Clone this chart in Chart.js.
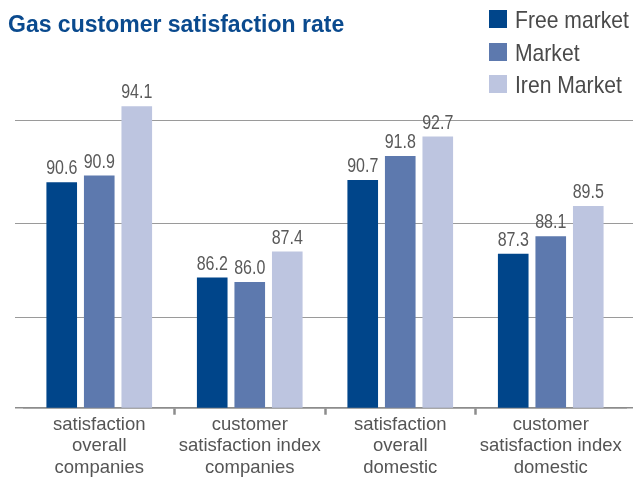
<!DOCTYPE html>
<html>
<head>
<meta charset="utf-8">
<script src="https://cdn.jsdelivr.net/npm/chart.js@4/dist/chart.umd.min.js"></script>
<style>
  html, body { margin: 0; padding: 0; background: #fff; }
  #wrap { position: relative; width: 643px; height: 478px; overflow: hidden; }
  #titolo {
    position: absolute; left: 8px; top: 11px;
    font: bold 23px "Liberation Sans", Arial, sans-serif;
    color: #0a4a8e; white-space: nowrap;
  }
  #legenda { position: absolute; left: 489px; top: 10px; }
  .voce { position: relative; height: 32.5px; }
  .voce span.box { position: absolute; left: 0; top: 0; width: 18px; height: 18px; }
  .voce span.txt {
    position: absolute; left: 26px; top: -4px; white-space: nowrap;
    font: 24px "Liberation Sans", Arial, sans-serif;
    color: #4a4a4a; transform: scaleX(0.88); transform-origin: 0 0;
  }
  canvas { position: absolute; left: 0; top: 0; }
</style>
</head>
<body>
<div id="wrap">
  <canvas id="grafico" width="643" height="478"></canvas>
  <div id="titolo">Gas customer satisfaction rate</div>
  <div id="legenda"></div>
</div>
<script>
/* Gas customer satisfaction rate — grafico a barre */

const categorie = [
  ["satisfaction", "overall", "companies"],
  ["customer", "satisfaction index", "companies"],
  ["satisfaction", "overall", "domestic"],
  ["customer", "satisfaction index", "domestic"],
];
const serie = ["Free market", "Market", "Iren Market"];
const freeMarket = [90.6, 86.2, 90.7, 87.3];
const market = [90.9, 86.0, 91.8, 88.1];
const irenMarket = [94.1, 87.4, 92.7, 89.5];
const lineeGriglia = [84.35, 88.7, 93.42];
const yMin = 80.2;
const yMax = 96.23;

const colori = ["#00458a", "#5d79ae", "#bdc5e0"];
const grigioAsse = "#8c8c8c";
const grigioGriglia = "#9a9a9a";

// legenda html
const leg = document.getElementById("legenda");
serie.forEach((nome, i) => {
  const d = document.createElement("div");
  d.className = "voce";
  d.innerHTML = `<span class="box" style="background:${colori[i]}"></span><span class="txt">${nome}</span>`;
  leg.appendChild(d);
});

// valori sopra le barre, testo stretto (scala orizzontale)
const etichetteValori = {
  id: "etichetteValori",
  afterDatasetsDraw(chart) {
    const ctx = chart.ctx;
    chart.data.datasets.forEach((ds, i) => {
      chart.getDatasetMeta(i).data.forEach((bar, j) => {
        ctx.save();
        ctx.translate(bar.x, bar.y - 8);
        ctx.scale(0.82, 1);
        ctx.font = '19.5px "Liberation Sans", Arial, sans-serif';
        ctx.fillStyle = "#595959";
        ctx.textAlign = "center";
        ctx.textBaseline = "alphabetic";
        ctx.fillText(ds.data[j].toFixed(1), 0, 0);
        ctx.restore();
      });
    });
  },
};

// griglia orizzontale: le tacche dei due assi y allungano le linee oltre l'area
const tickGriglia = (ax) => {
  ax.ticks = [yMin, ...lineeGriglia].map((v) => ({ value: v }));
};
const coloreGriglia = (c) => (c.tick && c.tick.value === yMin ? grigioAsse : grigioGriglia);
const spessoreGriglia = (c) => (c.tick && c.tick.value === yMin ? 1.5 : 1);

new Chart(document.getElementById("grafico"), {
  type: "bar",
  data: {
    labels: categorie,
    datasets: [
      { label: serie[0], data: freeMarket, backgroundColor: colori[0] },
      { label: serie[1], data: market, backgroundColor: colori[1] },
      { label: serie[2], data: irenMarket, backgroundColor: colori[2] },
    ],
  },
  options: {
    responsive: false,
    animation: false,
    barPercentage: 0.816,
    categoryPercentage: 0.748,
    layout: { padding: { left: 15, right: 10, top: 60, bottom: 0 } },
    plugins: { legend: { display: false }, tooltip: { enabled: false } },
    scales: {
      x: {
        border: { display: true, color: grigioAsse, width: 1.5 },
        grid: {
          offset: true,
          drawOnChartArea: false,
          drawTicks: true,
          tickLength: 7,
          tickWidth: 2.5,
          tickColor: (c) => (c.index >= 1 && c.index <= 3 ? grigioAsse : "rgba(0,0,0,0)"),
        },
        ticks: {
          padding: 0,
          maxRotation: 0,
          autoSkip: false,
          color: "#555",
          font: { family: "'Liberation Sans', Arial, sans-serif", size: 18.5, lineHeight: 1.14 },
        },
      },
      y: {
        min: yMin,
        max: yMax,
        border: { display: false },
        grid: { color: coloreGriglia, lineWidth: spessoreGriglia, drawTicks: true, tickLength: 9 },
        ticks: { display: false },
        afterBuildTicks: tickGriglia,
      },
      yDestra: {
        type: "linear",
        position: "right",
        min: yMin,
        max: yMax,
        border: { display: false },
        grid: { drawOnChartArea: false, color: coloreGriglia, lineWidth: spessoreGriglia, drawTicks: true, tickLength: 7 },
        ticks: { display: false },
        afterBuildTicks: tickGriglia,
      },
    },
  },
  plugins: [etichetteValori],
});
</script>
</body>
</html>
